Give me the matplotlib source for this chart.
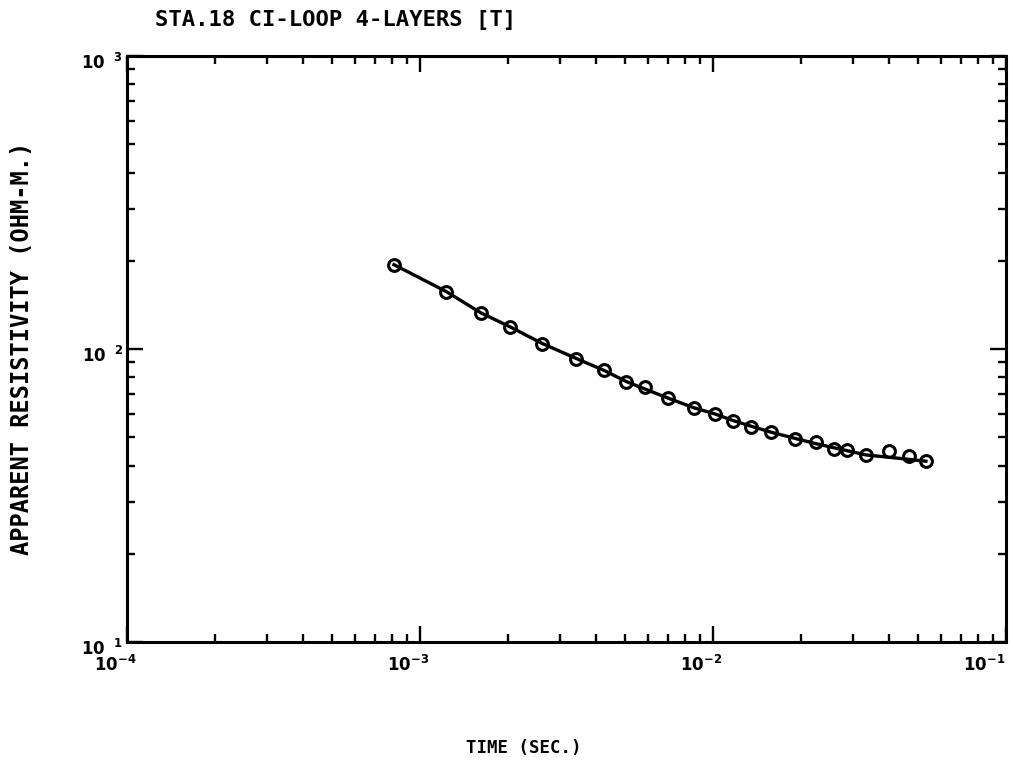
import matplotlib
matplotlib.use("Agg")
import matplotlib.pyplot as plt
import matplotlib.transforms as mtransforms
from matplotlib.ticker import FixedLocator, LogLocator, NullFormatter, FixedFormatter

# ---- data ----
time_s = [8.15e-4, 1.23e-3, 1.61e-3, 2.03e-3, 2.61e-3, 3.40e-3, 4.25e-3, 5.05e-3,
          5.86e-3, 7.02e-3, 8.61e-3, 1.017e-2, 1.17e-2, 1.35e-2, 1.58e-2, 1.91e-2,
          2.25e-2, 2.59e-2, 2.86e-2, 3.33e-2, 3.99e-2, 4.67e-2, 5.33e-2]
rho_obs = [194, 157, 133, 119.3, 104.4, 92.8, 84.5, 76.9, 73.9, 67.8, 62.7, 59.8,
           56.6, 54.0, 51.9, 49.2, 48.0, 45.4, 45.1, 43.4, 44.7, 43.0, 41.4]
rho_fit = [194, 157, 133, 119, 104.5, 93, 84.5, 77.5, 73, 68, 63, 60, 57, 54.5,
           52, 49.5, 47.5, 46, 45, 43.5, 42.7, 42.0, 41.4]

x_ticks = [1e-4, 1e-3, 1e-2, 1e-1]
x_ticklabels = [r"$\mathbf{10^{-4}}$", r"$\mathbf{10^{-3}}$", r"$\mathbf{10^{-2}}$", r"$\mathbf{10^{-1}}$"]
y_ticks = [1e1, 1e2, 1e3]
y_ticklabels = [r"$\mathbf{10}\;\;{}^{\mathbf{1}}$", r"$\mathbf{10}\;\;{}^{\mathbf{2}}$", r"$\mathbf{10}\;\;{}^{\mathbf{3}}$"]

title_text = "STA.18 CI-LOOP 4-LAYERS [T]"
xlabel_text = "TIME (SEC.)"
ylabel_text = "APPARENT RESISTIVITY (OHM-M.)"

W, H = 1013, 767
fig = plt.figure(figsize=(W / 100, H / 100), dpi=100)
ax = fig.add_axes([127 / W, (H - 642) / H, 879 / W, 586 / H])

ax.plot(time_s, rho_fit, color="black", lw=2.4, zorder=2)
ax.plot(time_s, rho_obs, linestyle="none", marker="o", ms=8.5, mfc="none",
        mec="black", mew=2.2, zorder=3)

ax.set_xscale("log")
ax.set_yscale("log")
ax.set_xlim(1e-4, 1e-1)
ax.set_ylim(1e1, 1e3)

ax.xaxis.set_major_locator(FixedLocator(x_ticks))
ax.xaxis.set_major_formatter(FixedFormatter(x_ticklabels))
ax.yaxis.set_major_locator(FixedLocator(y_ticks))
ax.yaxis.set_major_formatter(FixedFormatter(y_ticklabels))
for axis in (ax.xaxis, ax.yaxis):
    axis.set_minor_locator(LogLocator(base=10, subs=range(2, 10)))
    axis.set_minor_formatter(NullFormatter())

ax.tick_params(which="both", direction="in", top=True, right=True, color="black")
ax.tick_params(which="major", length=11.5, width=1.7, labelsize=12, pad=9)
ax.tick_params(which="minor", length=5.8, width=1.7)
ax.tick_params(axis="y", which="major", pad=3)
for s in ax.spines.values():
    s.set_linewidth(2.2)

# shift x tick labels slightly left (the last one more, to stay inside), y tick labels down
xlabs = ax.get_xticklabels()
for i, lab in enumerate(xlabs):
    dx = -12 if i < len(xlabs) - 1 else -22
    lab.set_transform(lab.get_transform() +
                      mtransforms.ScaledTranslation(dx / 100, 0, fig.dpi_scale_trans))
offy = mtransforms.ScaledTranslation(0, -5 / 100, fig.dpi_scale_trans)
for lab in ax.get_yticklabels():
    lab.set_transform(lab.get_transform() + offy)

fig.text(155 / W, 1 - 20 / H, title_text, ha="left", va="center",
         family="DejaVu Sans Mono", fontweight="bold", fontsize=16)
fig.text(524 / W, 1 - 748 / H, xlabel_text, ha="center", va="center",
         family="DejaVu Sans Mono", fontweight="bold", fontsize=12.5)
fig.text(22 / W, 1 - 348 / H, ylabel_text, ha="center", va="center", rotation=90,
         family="DejaVu Sans Mono", fontweight="bold", fontsize=17)

fig.savefig("out.png", dpi=100)
